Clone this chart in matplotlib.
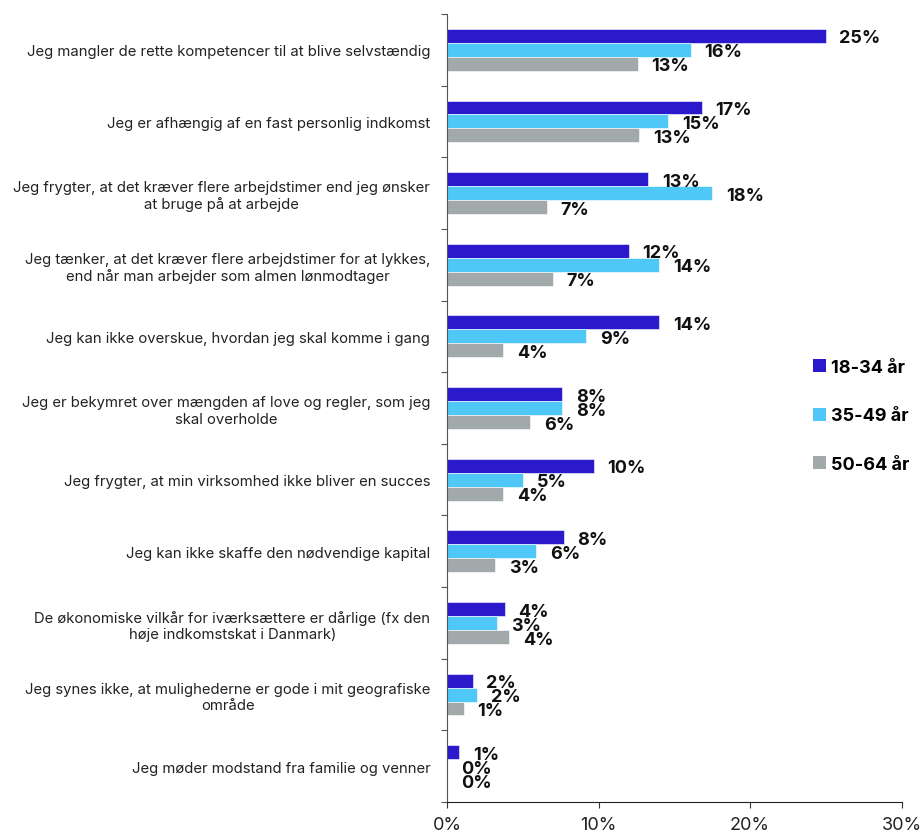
import matplotlib
matplotlib.use("Agg")
import matplotlib.pyplot as plt
import numpy as np
from matplotlib.patches import Patch

categories = [
    "Jeg mangler de rette kompetencer til at blive selvstændig",
    "Jeg er afhængig af en fast personlig indkomst",
    "Jeg frygter, at det kræver flere arbejdstimer end jeg ønsker\nat bruge på at arbejde",
    "Jeg tænker, at det kræver flere arbejdstimer for at lykkes,\nend når man arbejder som almen lønmodtager",
    "Jeg kan ikke overskue, hvordan jeg skal komme i gang",
    "Jeg er bekymret over mængden af love og regler, som jeg\nskal overholde",
    "Jeg frygter, at min virksomhed ikke bliver en succes",
    "Jeg kan ikke skaffe den nødvendige kapital",
    "De økonomiske vilkår for iværksættere er dårlige (fx den\nhøje indkomstskat i Danmark)",
    "Jeg synes ikke, at mulighederne er gode i mit geografiske\nområde",
    "Jeg møder modstand fra familie og venner",
]
series_names = ["18-34 år", "35-49 år", "50-64 år"]
v_18_34 = [25.0, 16.8, 13.3, 12.0, 14.0, 7.6, 9.7, 7.7, 3.8, 1.7, 0.8]
v_35_49 = [16.1, 14.6, 17.5, 14.0, 9.2, 7.6, 5.0, 5.9, 3.3, 2.0, 0.0]
v_50_64 = [12.6, 12.7, 6.6, 7.0, 3.7, 5.5, 3.7, 3.2, 4.1, 1.1, 0.0]
colors = ["#2B1ACB", "#4FC8F8", "#A2A9AB"]
x_ticks = [0, 10, 20, 30]

plt.rcParams['font.family'] = ['Inter', 'DejaVu Sans']

fig = plt.figure(figsize=(9.21, 8.37), dpi=100)
ax = fig.add_axes([447/921, 1 - 803/837, (901.5-447)/921, (803-15)/837])

n = len(categories)
centers = np.arange(n)
bh = 0.195
series = [v_18_34, v_35_49, v_50_64]
for i, (vals, col, name) in enumerate(zip(series, colors, series_names)):
    y = centers + (i - 1) * bh
    ax.barh(y, vals, height=bh, color=col, edgecolor='white', linewidth=0.4, label=name)
    for yy, v in zip(y, vals):
        ax.text(v + 0.9, yy + 0.03, f"{round(v):.0f}%", va='center', ha='left',
                fontsize=13, fontweight='bold', color='#111111')

ax.set_ylim(n - 0.5, -0.5)
ax.set_xlim(0, 30)
ax.set_yticks(centers)
ax.set_yticklabels(categories, fontsize=10.7, color='#222222', ha='right', multialignment='center')
ax.tick_params(axis='y', which='major', length=0, pad=12)
ax.set_yticks(np.arange(-0.5, n, 1.0), minor=True)
ax.tick_params(axis='y', which='minor', length=4, color='#555555', width=0.8)
ax.set_xticks(x_ticks)
ax.set_xticklabels([f"{t}%" for t in x_ticks], fontsize=13, color='#222222')
ax.tick_params(axis='x', length=4, color='#333333', width=0.8, pad=6)
for s in ['top', 'right']:
    ax.spines[s].set_visible(False)
ax.spines['left'].set_color('#555555')
ax.spines['bottom'].set_color('#222222')

handles = [Patch(facecolor=c, edgecolor='none', label=l) for c, l in zip(colors, series_names)]
leg = fig.legend(handles=handles, loc='center left', bbox_to_anchor=(797/921, 1 - 417/837),
                 frameon=False, handlelength=0.7, handleheight=0.7, handletextpad=0.3,
                 labelspacing=1.75, prop={'size': 13, 'weight': 'bold'})

fig.savefig("out.png", dpi=100)
